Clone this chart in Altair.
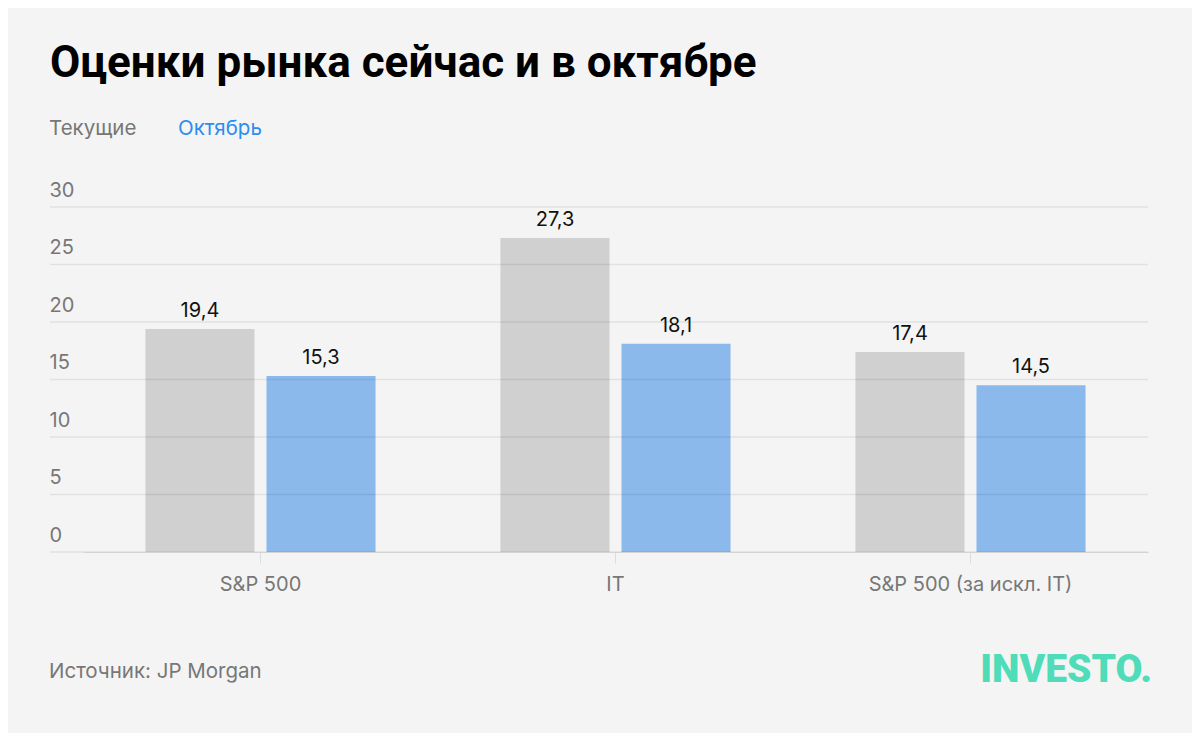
import altair as alt
import pandas as pd

# ---- data ----
categories = ["S&P 500", "IT", "S&P 500 (за искл. IT)"]
series = ["Текущие", "Октябрь"]
current_vals = [19.4, 27.3, 17.4]
october_vals = [15.3, 18.1, 14.5]
series_colors = ["#d0d0d0", "#8cb9ec"]
y_ticks = [0, 5, 10, 15, 20, 25, 30]

title_text = "Оценки рынка сейчас и в октябре"
source_text = "Источник: JP Morgan"
logo_text = "INVESTO."

rows = []
for i, c in enumerate(categories):
    rows.append({"category": c, "series": series[0], "value": current_vals[i]})
    rows.append({"category": c, "series": series[1], "value": october_vals[i]})
df = pd.DataFrame(rows)

FONT = "Inter"
W, H = 1098, 345

x_enc = alt.X("category:N", sort=categories,
              scale=alt.Scale(range=[33, 1098], paddingInner=0, paddingOuter=0),
              axis=alt.Axis(title=None, labelAngle=0, labelColor="#777777", labelFont=FONT,
                            labelFontSize=20, labelBaseline="alphabetic", labelPadding=27,
                            labelLimit=0, tickSize=11, tickColor="#dddddd",
                            domainColor="#d4d4d4", grid=False, zindex=1))
xo_enc = alt.XOffset("series:N", sort=series,
                     scale=alt.Scale(paddingInner=0.099, paddingOuter=0.516))
y_scale = alt.Scale(domain=[0, 30], nice=False, zero=True)
y_enc = alt.Y("value:Q", scale=y_scale,
              axis=alt.Axis(title=None, values=y_ticks, ticks=False, domain=False,
                            grid=False,
                            labelAlign="left", labelPadding=1, labelBaseline="alphabetic",
                            labelOffset=-11, labelColor="#777777", labelFont=FONT,
                            labelFontSize=20))

base = alt.Chart(df)

bars = base.mark_bar().encode(
    x=x_enc, xOffset=xo_enc, y=y_enc,
    color=alt.Color("series:N", sort=series,
                    scale=alt.Scale(domain=series, range=series_colors), legend=None),
)

grid = alt.Chart(pd.DataFrame({"v": y_ticks})).mark_rule(
    color="#000000", opacity=0.075, strokeWidth=1.5
).encode(y=alt.Y("v:Q", scale=y_scale), x=alt.value(0), x2=alt.value(W))

labels = base.mark_text(baseline="alphabetic", dy=-12, font=FONT, fontSize=20,
                        color="#111111").transform_calculate(
    label="replace(format(datum.value, '.1f'), '.', ',')"
).encode(x=x_enc, xOffset=xo_enc, y=y_enc, text="label:N")

title = alt.Chart(pd.DataFrame({"t": [title_text]})).mark_text(
    align="left", baseline="alphabetic", font="Roboto", fontWeight="bold",
    fontSize=44, color="#000000"
).encode(x=alt.value(0), y=alt.value(-130), text="t:N")

leg_df = pd.DataFrame({"s": series, "c": series_colors})
leg1 = alt.Chart(leg_df).transform_filter(alt.datum.s == series[0]).mark_text(
    align="left", baseline="alphabetic", font=FONT, fontSize=20.5, color="#777777"
).encode(x=alt.value(-1), y=alt.value(-72), text="s:N")
leg2 = alt.Chart(leg_df).transform_filter(alt.datum.s == series[1]).mark_text(
    align="left", baseline="alphabetic", font=FONT, fontSize=20.5, color="#2b8cf2"
).encode(x=alt.value(128), y=alt.value(-72), text="s:N")

source = alt.Chart(pd.DataFrame({"t": [source_text]})).mark_text(
    align="left", baseline="alphabetic", font=FONT, fontSize=20.5, color="#777777"
).encode(x=alt.value(-1), y=alt.value(471), text="t:N")

logo = alt.Chart(pd.DataFrame({"t": [logo_text]})).mark_text(
    align="right", baseline="alphabetic", font="Roboto", fontWeight=900,
    fontSize=39, color="#4fdcb8"
).encode(x=alt.value(1102), y=alt.value(475), text="t:N")

chart = alt.layer(bars, grid, labels, title, leg1, leg2, source, logo).properties(
    width=W, height=H,
    autosize=alt.AutoSizeParams(type="none"),
    padding={"left": 42, "top": 199, "right": 44, "bottom": 181},
    background="#f4f4f4",
).configure_view(stroke=None)

chart.save("out.html", embed_options={"renderer": "svg", "actions": False})
